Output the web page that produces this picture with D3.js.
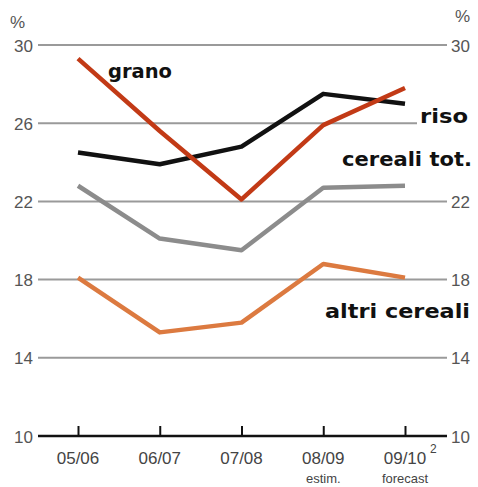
<!DOCTYPE html>
<html lang="it">
<head>
    <meta charset="UTF-8">
    <title>Cereali</title>
    <script src="https://d3js.org/d3.v7.min.js"></script>
    <style>
        body { margin: 0; background: #fff; font-family: "Liberation Sans", Arial, sans-serif; }
    </style>
</head>
<body>
<script>
    // data
    const years = ["05/06", "06/07", "07/08", "08/09", "09/10"];
    const subLabels = ["", "", "", "estim.", "forecast"];
    const yTicks = [10, 14, 18, 22, 26, 30];
    // on the right side the 26 label is taken by "riso"
    const yTicksRight = [10, 14, 18, 22, 30];

    const seriesNames = ["cereali tot.", "altri cereali", "riso", "grano"];
    const grano = [29.3, 25.6, 22.1, 25.9, 27.8];
    const riso = [24.5, 23.9, 24.8, 27.5, 27.0];
    const cerealiTot = [22.8, 20.1, 19.5, 22.7, 22.8];
    const altriCereali = [18.1, 15.3, 15.8, 18.8, 18.1];

    // styles and label placement, kept apart from the values
    const colors = ["#8c8c8c", "#dc7a40", "#111111", "#c23a16"];
    const labelPos = [
        { x: 342, y: 166, w: 130 },
        { x: 325, y: 318, w: 145 },
        { x: 420, y: 123, w: 48 },
        { x: 108, y: 78, w: 64 }
    ];
    const series = seriesNames.map((name, i) => ({
        name,
        values: [cerealiTot, altriCereali, riso, grano][i],
        color: colors[i],
        label: labelPos[i]
    }));

    const W = 478, H = 487;
    const svg = d3.select("body").append("svg")
        .attr("width", W)
        .attr("height", H);

    const x = d3.scalePoint().domain(years).range([78, 405]);
    const y = d3.scaleLinear().domain([10, 30]).range([436, 45]);

    const gridL = 38, gridR = 447;

    // gridlines (the 26 one stops where "riso" begins)
    svg.append("g").selectAll("line")
        .data(yTicks.filter(d => d > 10))
        .enter().append("line")
        .attr("x1", gridL).attr("x2", d => d === 26 ? 417 : gridR)
        .attr("y1", d => y(d)).attr("y2", d => y(d))
        .attr("stroke", "#9a9a9a")
        .attr("stroke-width", 2);

    // left and right tick labels
    const tickStyle = sel => sel
        .style("font-size", "17px")
        .attr("fill", "#555")
        .attr("dominant-baseline", "central");

    svg.append("g").selectAll("text")
        .data(yTicks).enter().append("text")
        .attr("x", 33).attr("y", d => y(d) + 1)
        .attr("text-anchor", "end")
        .text(d => d)
        .call(tickStyle);

    svg.append("g").selectAll("text")
        .data(yTicksRight).enter().append("text")
        .attr("x", 451).attr("y", d => y(d) + 1)
        .attr("text-anchor", "start")
        .text(d => d)
        .call(tickStyle);

    svg.append("text").attr("x", 10).attr("y", 22).text("%").call(tickStyle);
    svg.append("text").attr("x", 455).attr("y", 16).text("%").call(tickStyle);

    // bottom axis
    const xAxis = svg.append("g")
        .attr("transform", `translate(0,${y(10)})`)
        .call(d3.axisTop(x).tickSize(10).tickFormat(""));
    xAxis.select(".domain").remove();
    xAxis.selectAll("line").attr("stroke", "#111").attr("stroke-width", 2);
    svg.append("line")
        .attr("x1", gridL).attr("x2", gridR)
        .attr("y1", y(10)).attr("y2", y(10))
        .attr("stroke", "#111").attr("stroke-width", 2.5);

    svg.append("g").selectAll("text")
        .data(years).enter().append("text")
        .attr("x", d => x(d)).attr("y", 464)
        .attr("text-anchor", "middle")
        .style("font-size", "17px")
        .attr("fill", "#444")
        .text(d => d);

    svg.append("g").selectAll("text")
        .data(years).enter().append("text")
        .attr("x", d => x(d)).attr("y", 483)
        .attr("text-anchor", "middle")
        .style("font-size", "13px")
        .attr("fill", "#444")
        .text((d, i) => subLabels[i]);

    svg.append("text")
        .attr("x", x("09/10") + 25).attr("y", 453)
        .style("font-size", "12px")
        .attr("fill", "#444")
        .text("2");

    // lines
    const line = d3.line()
        .x((d, i) => x(years[i]))
        .y(d => y(d));

    svg.append("g").selectAll("path")
        .data(series).enter().append("path")
        .attr("d", d => line(d.values))
        .attr("fill", "none")
        .attr("stroke", d => d.color)
        .attr("stroke-width", 4.5)
        .attr("stroke-linejoin", "round");

    // series labels
    svg.append("g").selectAll("text")
        .data(series).enter().append("text")
        .attr("x", d => d.label.x).attr("y", d => d.label.y)
        .attr("textLength", d => d.label.w)
        .attr("lengthAdjust", "spacingAndGlyphs")
        .style("font-family", "'DejaVu Sans', sans-serif")
        .style("font-size", "19px")
        .style("font-weight", "bold")
        .attr("fill", "#111")
        .text(d => d.name);
</script>
</body>
</html>
